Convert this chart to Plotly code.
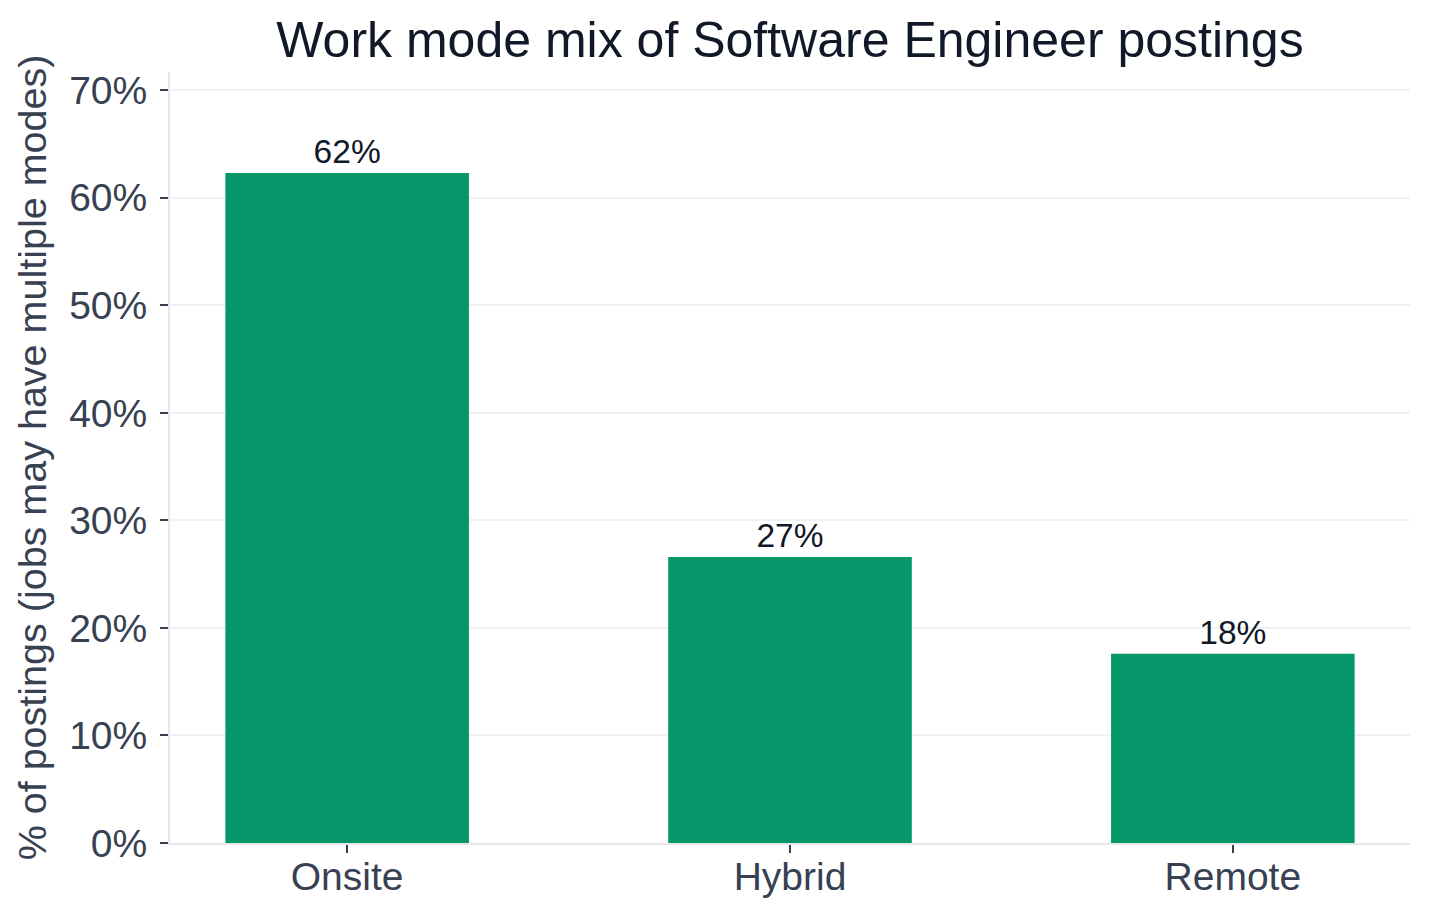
import plotly.graph_objects as go

# work mode shares (%)
modes = ["Onsite", "Hybrid", "Remote"]
share = [62.3, 26.6, 17.6]
y_ticks = [0, 10, 20, 30, 40, 50, 60, 70]

FONT = "Liberation Sans, Arial, Helvetica, sans-serif"

fig = go.Figure(go.Bar(
    x=modes,
    y=share,
    width=0.55,
    marker=dict(color="#059669", line=dict(width=0)),
    texttemplate="%{y:.0f}%",
    textposition="outside",
    textfont=dict(family=FONT, size=33.5, color="#111827"),
    cliponaxis=False,
    hoverinfo="skip",
))

# page adds an 8px body margin, so the figure is a bit smaller than the window
fig.update_layout(
    width=1421, height=910,
    margin=dict(l=162, r=19, t=64, b=75),
    paper_bgcolor="white",
    plot_bgcolor="white",
    showlegend=False,
    font=dict(family=FONT, color="#374151"),
    title=dict(
        text="Work mode mix of Software Engineer postings",
        x=0.5, xref="paper", xanchor="center",
        y=0.985, yref="container", yanchor="top",
        font=dict(family=FONT, size=50, color="#111827"),
    ),
)

fig.update_xaxes(
    range=[-0.4, 2.4],
    showline=True, linecolor="#e5e7eb", linewidth=2,
    ticks="outside", ticklen=8, tickwidth=2, tickcolor="#374151",
    ticklabelstandoff=-10,
    tickfont=dict(size=39, color="#374151"),
    showgrid=False,
)

fig.update_yaxes(
    range=[0, 71.7],
    tickvals=y_ticks,
    ticktext=[f"{v}%" for v in y_ticks],
    showline=True, linecolor="#e5e7eb", linewidth=2,
    ticks="outside", ticklen=8, tickwidth=2, tickcolor="#374151",
    ticklabelstandoff=5,
    tickfont=dict(size=39, color="#374151"),
    showgrid=True, gridcolor="#f0f1f3", gridwidth=2,
    zeroline=False,
    title=dict(text="% of postings (jobs may have multiple modes)",
               font=dict(size=39.5, color="#374151"), standoff=10),
)

fig.write_html("out.html")
